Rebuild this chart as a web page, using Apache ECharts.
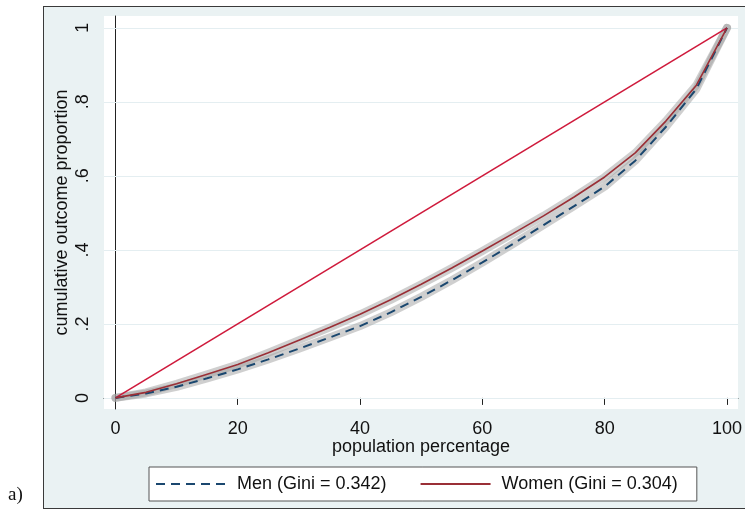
<!DOCTYPE html>
<html>
<head>
<meta charset="utf-8">
<script src="https://cdn.jsdelivr.net/npm/echarts@6/dist/echarts.min.js"></script>
<style>
  html, body { margin: 0; padding: 0; background: #ffffff; }
  #wrap { position: relative; width: 745px; height: 515px; overflow: hidden; }
  #frame { position: absolute; left: 43px; top: 6px; width: 740px; height: 503px;
           background: #eaf2f3; border: 1.5px solid #3a3a3a; box-sizing: border-box; }
  #chart { position: absolute; left: 0; top: 0; width: 745px; height: 515px; }
</style>
</head>
<body>
<div id="wrap">
  <div id="frame"></div>
  <div id="chart"></div>
</div>
<script>
// ---- data ----
const popPct = [0, 5, 10, 15, 20, 25, 30, 35, 40, 45, 50, 55, 60, 65, 70, 75, 80, 85, 90, 95, 100];
const menLorenz = [0, 0.012, 0.030, 0.053, 0.077, 0.104, 0.133, 0.163, 0.194, 0.231, 0.273, 0.318, 0.366, 0.416, 0.467, 0.518, 0.571, 0.641, 0.732, 0.835, 1];
const womenLorenz = [0, 0.015, 0.038, 0.064, 0.090, 0.122, 0.156, 0.190, 0.226, 0.265, 0.307, 0.351, 0.397, 0.444, 0.492, 0.543, 0.597, 0.662, 0.748, 0.845, 1];
const equalityX = [0, 100];
const equalityY = [0, 1];
const xTicks = [0, 20, 40, 60, 80, 100];
const yTicks = [0, 0.2, 0.4, 0.6, 0.8, 1];
const menName = 'Men (Gini = 0.342)';
const womenName = 'Women (Gini = 0.304)';

const pairs = (xs, ys) => xs.map((x, i) => [x, ys[i]]);
const yFmt = v => (v === 0 ? '0' : v === 1 ? '1' : String(+v.toFixed(1)).replace(/^0/, ''));

const FONT = '"Liberation Sans", Arial, sans-serif';
const FS = 18;
const chart = echarts.init(document.getElementById('chart'), null, { renderer: 'canvas' });

chart.setOption({
  backgroundColor: 'transparent',
  animation: false,
  textStyle: { fontFamily: FONT },
  grid: { left: 104, right: 4, top: 16, bottom: 106, show: true, backgroundColor: '#ffffff', borderWidth: 0 },
  xAxis: {
    type: 'value', min: -1.87, max: 101.8,
    axisLine: { show: true, lineStyle: { color: '#222', width: 1 } },
    axisTick: { show: true, length: 7, customValues: xTicks, lineStyle: { color: '#222' } },
    axisLabel: { customValues: xTicks, margin: 11, fontSize: FS, color: '#111', fontFamily: FONT },
    splitLine: { show: false },
    name: 'population percentage', nameLocation: 'middle', nameGap: 29, nameMoveOverlap: false,
    nameTextStyle: { fontSize: FS, color: '#111', fontFamily: FONT }
  },
  yAxis: {
    type: 'value', min: -0.03, max: 1.032,
    axisLine: { show: true, lineStyle: { color: '#222', width: 1 } },
    axisTick: { show: true, length: 7, customValues: yTicks, lineStyle: { color: '#222' } },
    axisLabel: { customValues: yTicks, rotate: 90, margin: 12, fontSize: FS, color: '#111', fontFamily: FONT, formatter: yFmt },
    splitLine: { show: false },
    name: 'cumulative outcome proportion', nameLocation: 'middle', nameGap: 33, nameMoveOverlap: false,
    nameTextStyle: { fontSize: FS, color: '#111', fontFamily: FONT }
  },
  legend: {
    data: [menName, womenName],
    left: 149, top: 467,
    backgroundColor: '#ffffff', borderColor: '#555', borderWidth: 1, borderRadius: 0,
    padding: [8, 19, 8, 6],
    itemWidth: 70, itemHeight: 18, itemGap: 33,
    itemStyle: { opacity: 0 },
    textStyle: { fontSize: FS, color: '#111', fontFamily: FONT, padding: [0, 0, 0, 6] }
  },
  graphic: [{
    type: 'text', left: 8, top: 486,
    style: { text: 'a)', font: '19px "Liberation Serif", "Times New Roman", serif', fill: '#111' }
  }],
  series: [
    {
      name: 'grid', type: 'line', data: [], silent: true, z: 1,
      markLine: {
        silent: true, symbol: 'none', label: { show: false }, z: 1,
        lineStyle: { color: '#e4eef1', width: 1.2, type: 'solid' },
        data: yTicks.map(v => ({ yAxis: v }))
      }
    },
    {
      name: 'menBand', type: 'line', data: pairs(popPct, menLorenz), showSymbol: false, symbol: 'none', silent: true, z: 2,
      lineStyle: { color: 'rgba(160,160,160,0.5)', width: 8, cap: 'round', join: 'round' }
    },
    {
      name: 'womenBand', type: 'line', data: pairs(popPct, womenLorenz), showSymbol: false, symbol: 'none', silent: true, z: 2,
      lineStyle: { color: 'rgba(160,160,160,0.5)', width: 8, cap: 'round', join: 'round' }
    },
    {
      name: 'equality', type: 'line', data: pairs(equalityX, equalityY), showSymbol: false, symbol: 'none', z: 3,
      lineStyle: { color: '#cf1a3c', width: 1.6 }
    },
    {
      name: menName, type: 'line', data: pairs(popPct, menLorenz), showSymbol: false, symbol: 'none', z: 4,
      itemStyle: { color: '#1a476f' },
      lineStyle: { color: '#1a476f', width: 2, type: [9, 6] }
    },
    {
      name: womenName, type: 'line', data: pairs(popPct, womenLorenz), showSymbol: false, symbol: 'none', z: 5,
      itemStyle: { color: '#9a2f36' },
      lineStyle: { color: '#9a2f36', width: 1.6 }
    }
  ]
});
</script>
</body>
</html>
